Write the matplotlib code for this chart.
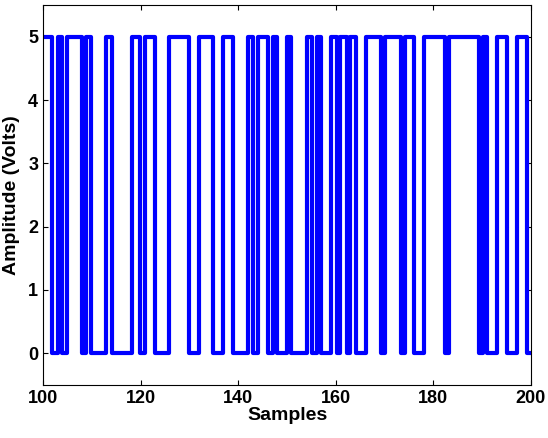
import matplotlib.pyplot as plt

# switching instants (samples) and the level held after each one
edges = [100, 101.8, 103.1, 103.8, 104.9, 107.9, 108.9, 109.8, 113.0, 114.1,
         118.2, 119.9, 120.9, 123.0, 125.9, 130.0, 132.0, 134.9, 136.9, 139.0,
         142.1, 143.1, 144.1, 146.2, 147.2, 148.0, 150.1, 150.8, 154.0, 155.1,
         156.1, 156.9, 159.0, 160.2, 160.9, 162.2, 163.0, 164.1, 166.1, 169.2,
         170.1, 173.3, 174.2, 176.0, 178.1, 182.4, 183.1, 189.3, 190.2, 190.9,
         193.1, 195.1, 197.1, 199.1, 200]
levels = [5, 0] * 27 + [0]

plt.rcParams['font.family'] = ['Liberation Sans', 'DejaVu Sans']
plt.rcParams['font.weight'] = 'bold'
fig = plt.figure(figsize=(5.48, 4.38), dpi=100)
ax = fig.add_axes([43/548, 53/438, 488/548, 380/438])
ax.step(edges, levels, where='post', color='#0000ff', linewidth=3)
ax.set_xlim(100, 200)
ax.set_ylim(-0.5, 5.5)
ax.set_yticks([0, 1, 2, 3, 4, 5])
ax.tick_params(direction='in', labelsize=13, top=True, right=True)
ax.set_xlabel('Samples', fontsize=14, fontweight='bold', labelpad=0)
ax.set_ylabel('Amplitude (Volts)', fontsize=14, fontweight='bold', labelpad=6)
fig.savefig('out.png')
